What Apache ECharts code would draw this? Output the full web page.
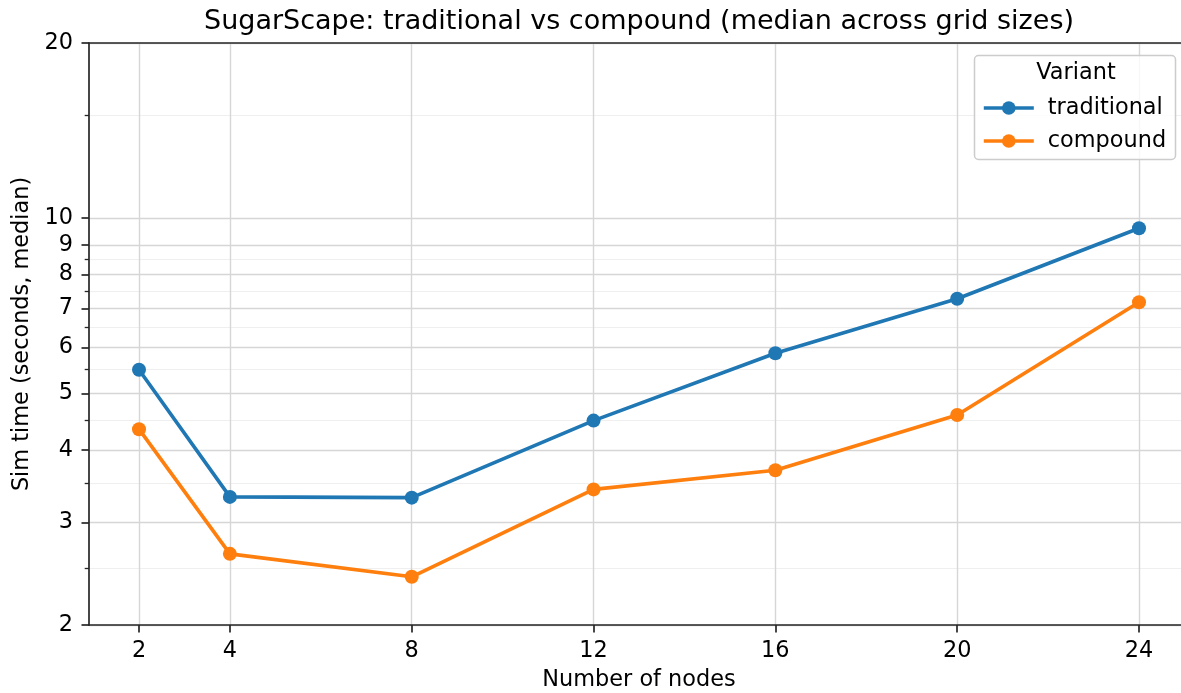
<!DOCTYPE html>
<html>
<head>
<meta charset="utf-8">
<script src="https://cdn.jsdelivr.net/npm/echarts@6/dist/echarts.min.js"></script>
<style>
  html, body { margin: 0; padding: 0; background: #ffffff; }
  #chart { width: 1181px; height: 693px; }
</style>
</head>
<body>
<div id="chart"></div>
<script>
// Median sim time per node count for each SugarScape variant
const nodes = [2, 4, 8, 12, 16, 20, 24];
const traditional = [5.49, 3.32, 3.31, 4.49, 5.86, 7.27, 9.61];
const compound = [4.34, 2.65, 2.42, 3.42, 3.69, 4.59, 7.17];

// Axis ticks
const xTicks = [2, 4, 8, 12, 16, 20, 24];
const yMajorTicks = [2, 3, 4, 5, 6, 7, 8, 9, 10, 20];
const yMinorTicks = [2.5, 3.5, 4.5, 5.5, 6.5, 7.5, 8.5, 15];

const FONT = 'DejaVu Sans';
const FS = 22.4;
const C_BLUE = '#1f77b4';
const C_ORANGE = '#ff7f0e';
const INK = '#262626';
const LINE_W = 3.6;
const MARK = 14;

const chart = echarts.init(document.getElementById('chart'), null, { renderer: 'canvas' });

const pairs = (ys) => nodes.map((x, i) => [x, ys[i]]);

const option = {
  backgroundColor: '#ffffff',
  animation: false,
  grid: {
    left: 89, top: 43, width: 1100, height: 582,
    outerBoundsMode: 'none'
  },
  xAxis: [
    {
      type: 'value',
      min: 0.9, max: 25.1,
      name: 'Number of nodes',
      nameLocation: 'middle',
      nameGap: 44,
      nameTextStyle: { fontFamily: FONT, fontSize: FS, color: '#000' },
      axisLine: { show: true, lineStyle: { color: INK, width: 1.7 } },
      axisTick: { show: true, length: 7.5, lineStyle: { color: INK, width: 1.7 }, customValues: xTicks },
      axisLabel: { customValues: xTicks, margin: 15, fontFamily: FONT, fontSize: FS, color: '#000' },
      splitLine: { show: true, lineStyle: { color: '#d6d6d6', width: 1.4 } }
    },
    {
      // top frame line
      type: 'value', position: 'top',
      min: 0.9, max: 25.1,
      axisLine: { show: true, lineStyle: { color: INK, width: 1.7 } },
      axisTick: { show: false },
      axisLabel: { show: false },
      splitLine: { show: false }
    }
  ],
  yAxis: [
    {
      type: 'log', logBase: 10,
      min: 2, max: 20,
      position: 'left',
      name: 'Sim time (seconds, median)',
      nameLocation: 'middle',
      nameGap: 54,
      nameTextStyle: { fontFamily: FONT, fontSize: FS, color: '#000' },
      axisLine: { show: true, lineStyle: { color: INK, width: 1.7 } },
      axisTick: { show: true, length: 7.5, lineStyle: { color: INK, width: 1.7 }, customValues: yMajorTicks },
      axisLabel: { customValues: yMajorTicks, margin: 16, fontFamily: FONT, fontSize: FS, color: '#000' },
      splitLine: { show: true, lineStyle: { color: '#d6d6d6', width: 1.4 } }
    },
    {
      type: 'log', logBase: 10,
      min: 2, max: 20,
      position: 'left',
      axisLine: { show: false },
      axisTick: { show: true, length: 4.3, lineStyle: { color: INK, width: 1.3 }, customValues: yMinorTicks },
      axisLabel: { show: false, customValues: yMinorTicks },
      splitLine: { show: true, lineStyle: { color: '#efefef', width: 1.2 } }
    }
  ],
  legend: {
    left: 977, top: 92,
    orient: 'vertical',
    itemWidth: 50, itemHeight: 17, itemGap: 11,
    lineStyle: { width: LINE_W },
    textStyle: { fontFamily: FONT, fontSize: FS, color: '#000', padding: [0, 0, 0, 9] },
    data: ['traditional', 'compound'],
    z: 20
  },
  graphic: [
    {
      type: 'text', x: 639, y: 22, z: 30,
      style: {
        text: 'SugarScape: traditional vs compound (median across grid sizes)',
        fontFamily: FONT, fontSize: 27, fill: '#000',
        textAlign: 'center', textVerticalAlign: 'middle'
      }
    },
    {
      type: 'rect', z: 15,
      shape: { x: 974.5, y: 55.5, width: 201, height: 104, r: 4 },
      style: { fill: 'rgba(255,255,255,0.8)', stroke: '#cccccc', lineWidth: 1.5 }
    },
    {
      type: 'text', x: 1076, y: 73, z: 30,
      style: {
        text: 'Variant', fontFamily: FONT, fontSize: FS, fill: '#000',
        textAlign: 'center', textVerticalAlign: 'middle'
      }
    }
  ],
  series: [
    {
      name: 'traditional', type: 'line', yAxisIndex: 0,
      data: pairs(traditional),
      symbol: 'circle', symbolSize: MARK,
      itemStyle: { color: C_BLUE },
      lineStyle: { color: C_BLUE, width: LINE_W },
      z: 5
    },
    {
      name: 'compound', type: 'line', yAxisIndex: 0,
      data: pairs(compound),
      symbol: 'circle', symbolSize: MARK,
      itemStyle: { color: C_ORANGE },
      lineStyle: { color: C_ORANGE, width: LINE_W },
      z: 5
    }
  ]
};

chart.setOption(option);
</script>
</body>
</html>
